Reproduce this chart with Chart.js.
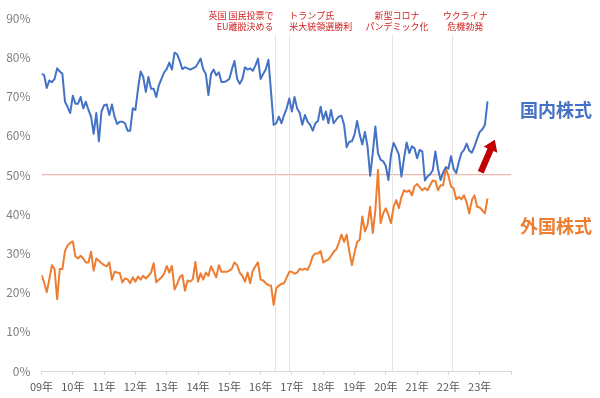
<!DOCTYPE html>
<html><head><meta charset="utf-8">
<script src="https://cdn.jsdelivr.net/npm/chart.js@4.4.1/dist/chart.umd.min.js"></script>
<style>html,body{margin:0;padding:0;background:#fff;}#wrap{width:600px;height:398px;position:relative;}</style>
</head><body><div id="wrap"><canvas id="c" width="600" height="398"></canvas></div>
<script>
// ---- data (monthly, from Jan 2009) ----
const yearLabels = ['09年','10年','11年','12年','13年','14年','15年','16年','17年','18年','19年','20年','21年','22年','23年'];
const seriesNames = ['国内株式','外国株式'];
const domestic = [
75.8,75.5,72.2,74.1,73.7,74.5,77.2,76.4,75.8,68.7,
67.4,65.8,70.2,68.2,68.2,69.9,67.0,68.7,66.6,64.9,
60.5,65.8,58.6,66.2,67.8,68.0,65.3,68.0,64.9,63.0,
63.6,63.6,63.2,61.3,61.3,67.0,66.6,72.0,76.4,75.0,
71.2,75.0,72.0,72.0,69.9,72.9,74.5,76.2,77.0,78.7,
76.9,81.2,80.8,79.1,77.0,
77.5,77.2,76.9,77.2,77.5,78.5,79.7,77.0,75.8,70.4,
75.8,76.9,75.4,76.2,73.7,73.7,74.0,74.5,77.0,79.1,
74.5,73.3,74.5,77.5,76.9,77.2,76.6,77.9,79.7,74.5,
75.8,77.0,79.4,71.2,62.8,
63.2,64.9,63.2,65.3,67.0,69.5,66.2,69.9,67.0,65.8,
62.8,65.3,63.6,62.8,61.3,63.2,63.8,67.4,64.1,66.2,
63.2,66.6,63.2,
64.1,64.9,65.1,62.8,57.1,58.5,58.6,60.3,63.8,60.3,
57.8,61.0,57.3,49.8,55.6,62.4,55.6,53.9,53.5,52.3,
48.7,55.2,58.2,56.8,55.2,49.6,54.3,58.3,55.6,57.3,
56.8,54.3,56.4,56.0,48.6,49.6,50.2,51.2,56.0,51.6,
48.7,50.7,52.0,51.6,54.8,51.6,50.5,53.3,55.6,56.4,
58.0,56.2,55.7,57.3,59.2,61.0,61.6,62.8,68.8
];
const foreign = [
24.5,22.6,20.1,23.4,27.0,26.0,18.3,26.0,26.0,30.6,
32.0,32.7,33.1,29.2,28.7,29.4,28.7,27.7,27.7,30.4,
25.6,28.7,28.1,27.5,27.0,26.7,27.7,23.3,25.3,25.1,
25.0,22.6,23.6,23.4,22.4,23.9,22.8,24.1,23.3,24.3,
23.6,24.3,25.1,27.5,22.6,23.3,23.9,24.8,26.8,25.1,
26.8,20.8,22.2,23.9,24.5,
20.5,23.1,22.8,23.4,27.8,22.8,24.9,23.3,25.1,24.3,
26.7,25.3,23.9,27.0,25.3,25.3,25.3,25.6,26.1,27.7,
27.0,25.1,24.3,22.8,25.1,22.4,25.6,26.7,27.7,23.3,
23.1,22.4,21.9,21.8,
16.9,21.1,21.8,22.2,22.4,23.9,25.3,25.3,24.8,25.1,
26.1,25.8,26.1,25.8,27.2,29.3,30.0,30.0,30.6,27.7,
28.1,28.5,29.3,30.4,
31.0,32.7,34.8,32.9,34.8,30.5,27.0,30.2,32.9,33.5,
39.4,35.6,37.3,41.9,35.2,41.0,51.3,37.7,40.2,41.5,
39.8,37.7,41.9,43.6,41.5,44.4,46.1,45.7,46.1,44.8,
47.1,47.7,46.9,46.1,46.7,46.1,47.4,48.6,48.5,46.1,
47.4,47.4,51.8,49.8,47.1,46.6,43.8,44.4,43.8,44.8,
43.0,40.2,43.6,44.8,41.9,41.7,41.0,40.2,44.0
];
// events: month index (from Jan 2009) and caption lines
const eventMonths = [89.7, 95.0, 134.4, 157.5];
const eventCaptions = [
  ['英国 国民投票で','EU離脱決める'],
  ['トランプ氏','米大統領選勝利'],
  ['新型コロナ','パンデミック化'],
  ['ウクライナ','危機勃発']
];
const yMin = 0, yMax = 90, yStep = 10;
const xMax = 180;
const referenceLevel = 50;
const arrowFrom = {x:168.4, y:50.7};
const arrowTo = {x:173.8, y:59.0};
const seriesLabelLevels = [66.5, 37.0];

// ---- styles ----
const FONT = '"Noto Sans CJK JP","Noto Sans",sans-serif';
const BLUE = '#4472C4', ORANGE = '#ED7D31', RED = '#C00000';

const toXY = arr => arr.map((v,i)=>({x:i,y:v}));

const decor = {
  id:'decor',
  beforeDatasetsDraw(chart){
    const {ctx, chartArea, scales:{x}} = chart;
    ctx.save();
    ctx.strokeStyle = '#E3E3E3';
    ctx.lineWidth = 1;
    eventMonths.forEach(m=>{
      const px = Math.round(x.getPixelForValue(m))+0.5;
      ctx.beginPath(); ctx.moveTo(px, 35); ctx.lineTo(px, chartArea.bottom); ctx.stroke();
    });
    ctx.restore();
  },
  afterDatasetsDraw(chart){
    const {ctx, chartArea, scales:{x,y}} = chart;
    ctx.save();
    // captions
    ctx.font = '9px ' + FONT;
    ctx.fillStyle = '#D02020';
    ctx.textBaseline = 'middle';
    const aligns = ['right','left','center','center'];
    const offs = [-2, 0, 5, 13];
    eventMonths.forEach((m,i)=>{
      const px = x.getPixelForValue(m) + offs[i];
      ctx.textAlign = aligns[i];
      eventCaptions[i].forEach((t,j)=> ctx.fillText(t, px, 15.5 + j*11.5));
    });
    // series labels
    ctx.font = 'bold 18px ' + FONT;
    ctx.textAlign = 'left';
    [BLUE, ORANGE].forEach((c,i)=>{
      ctx.fillStyle = c;
      ctx.fillText(seriesNames[i], chartArea.right + 9, y.getPixelForValue(seriesLabelLevels[i]));
    });
    // arrow
    const x0 = x.getPixelForValue(arrowFrom.x), y0 = y.getPixelForValue(arrowFrom.y);
    const x1 = x.getPixelForValue(arrowTo.x), y1 = y.getPixelForValue(arrowTo.y);
    const ang = Math.atan2(y1-y0, x1-x0);
    const len = Math.hypot(x1-x0, y1-y0);
    ctx.translate(x0, y0); ctx.rotate(ang);
    ctx.fillStyle = RED;
    const sw = 3.2, hl = 11, hw = 7.5;
    ctx.beginPath();
    ctx.moveTo(0,-sw); ctx.lineTo(len-hl,-sw); ctx.lineTo(len-hl,-hw); ctx.lineTo(len,0);
    ctx.lineTo(len-hl,hw); ctx.lineTo(len-hl,sw); ctx.lineTo(0,sw); ctx.closePath();
    ctx.fill();
    ctx.restore();
  }
};

new Chart(document.getElementById('c'), {
  type:'line',
  data:{datasets:[
    {label:seriesNames[0], data:toXY(domestic), borderColor:BLUE, borderWidth:2, pointRadius:0, tension:0, borderJoinStyle:'round'},
    {label:seriesNames[1], data:toXY(foreign), borderColor:ORANGE, borderWidth:2, pointRadius:0, tension:0, borderJoinStyle:'round'}
  ]},
  options:{
    responsive:false, animation:false, devicePixelRatio:1,
    layout:{padding:{top:11,right:89,left:0,bottom:0}},
    plugins:{legend:{display:false}, tooltip:{enabled:false}},
    scales:{
      x:{type:'linear', min:0, max:xMax,
        afterFit(s){ s.height = 27; },
        ticks:{stepSize:12, autoSkip:false, maxRotation:0, padding:5,
          callback:(v)=> yearLabels[Math.round(v/12)] ?? '',
          font:{size:11,family:FONT}, color:'#595959'},
        grid:{drawOnChartArea:false, drawTicks:true, tickLength:4, color:'#D9D9D9'},
        border:{color:'#D9D9D9'}
      },
      y:{min:yMin, max:yMax,
        afterFit(s){ s.width = 41.5; },
        ticks:{stepSize:yStep, callback:v=>v+'%', font:{size:12,family:FONT}, color:'#7F7F7F', padding:11},
        grid:{drawTicks:false, lineWidth:1.2, color:(c)=> (c.tick && c.tick.value===referenceLevel) ? '#F0B7AE' : 'rgba(0,0,0,0)'},
        border:{display:false}
      }
    }
  },
  plugins:[decor]
});
</script></body></html>
